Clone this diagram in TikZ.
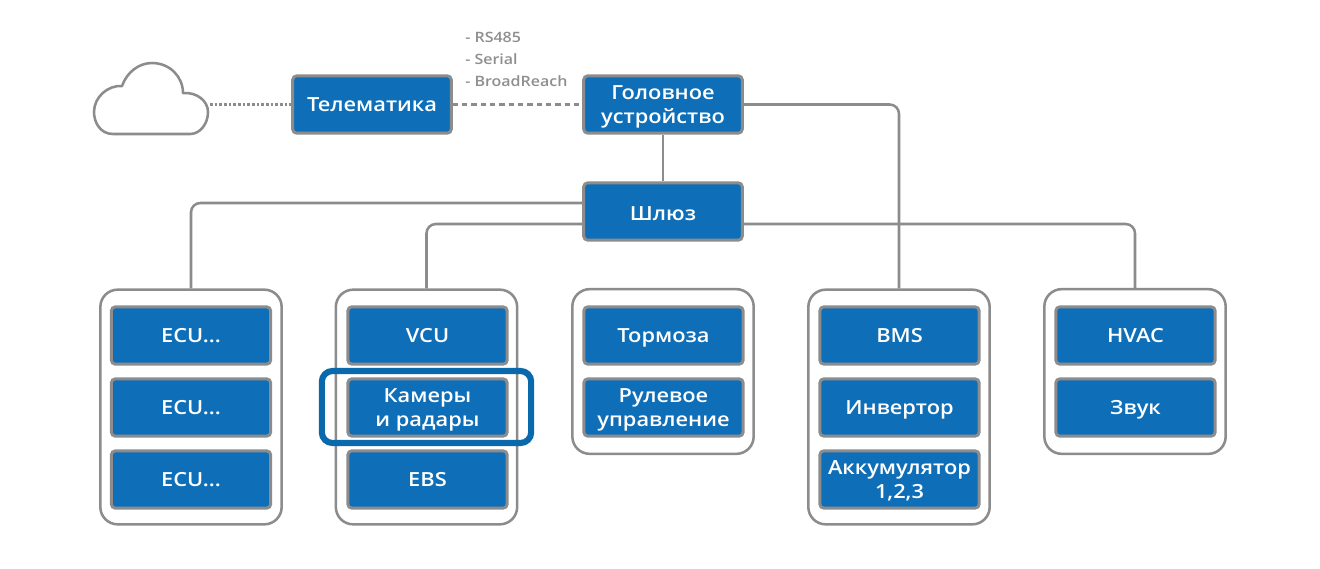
\documentclass[tikz,border=0pt]{standalone}
\usepackage{fontspec}
\newfontfamily\boxfont{Open Sans}[UprightFont=* Semibold,FakeStretch=1.12]
\usetikzlibrary{calc}
\definecolor{boxblue}{HTML}{0E6FB8}
\definecolor{hiblue}{HTML}{0A69AC}
\definecolor{linegrey}{HTML}{8C8C8C}
\definecolor{labelgrey}{HTML}{8F8F8F}
\tikzset{
  x=0.75pt,y=-0.75pt,
  blue box/.style={draw=linegrey,line width=2.2pt,fill=boxblue,rounded corners=3pt,text=white,
    inner sep=0pt,align=center,font=\boxfont\fontsize{14.6}{18.5}\selectfont,minimum height=43pt,
    minimum width=119pt,text height=10.4pt,text depth=0pt},
  two lines/.style={text height=28.9pt},
  inner box/.style={blue box,minimum width=119.5pt},
  group box/.style={draw=linegrey,line width=1.9pt,rounded corners=13pt,inner sep=0pt,fill=white},
  link/.style={draw=linegrey,line width=1.9pt,rounded corners=7pt},
  small label/.style={text=labelgrey,anchor=west,inner sep=0pt,font=\boxfont\fontsize{10.7}{12}\selectfont},
}
\begin{document}
\begin{tikzpicture}
\useasboundingbox (0,0) rectangle (1320,568);
\fill[white] (0,0) rectangle (1320,568);
% group frames
\node[group box,minimum width=136pt,minimum height=176pt] (g1) at (191,407) {};
\node[group box,minimum width=136pt,minimum height=176pt] (g2) at (426.5,407) {};
\node[group box,minimum width=136pt,minimum height=123.5pt] (g3) at (663,371.5) {};
\node[group box,minimum width=136pt,minimum height=176pt] (g4) at (899,407) {};
\node[group box,minimum width=136pt,minimum height=123.5pt] (g5) at (1135,371.5) {};
% top boxes
\node[blue box] (tele) at (372,104.5) {Телематика};
\node[blue box,two lines] (head) at (663,104.5) {Головное\\устройство};
\node[blue box,text height=13.4pt] (gw) at (663,211.5) {Шлюз};
% connectors
\draw[link] (head.east) -| (g4.north);
\draw[link] (head.south) -- (gw.north);
\draw[link] ($(gw.west)+(0,-8.5)$) -| (g1.north);
\draw[link] ($(gw.west)+(0,12.5)$) -| (g2.north);
\draw[link] ($(gw.east)+(0,12.5)$) -| (g5.north);
\draw[draw=linegrey,line width=1.9pt,dash pattern=on 4pt off 3pt] (tele.east) -- (head.west);
% cloud
\draw[draw=linegrey,line width=1.9pt,line join=round] (113,134)
  .. controls (100,134) and (94,122) .. (94,112)
  .. controls (94,97) and (108,85) .. (122,86)
  .. controls (127,72) and (139,63) .. (152,63)
  .. controls (170,63) and (183,77) .. (183,93)
  .. controls (197,92) and (208,101) .. (208,112)
  .. controls (208,124) and (200,134) .. (190,134) -- cycle;
\coordinate (cloudport) at (210,104.5);
\draw[draw=linegrey,line width=1.9pt,dash pattern=on 1.9pt off 1.6pt] (cloudport) -- (tele.west);
% inner boxes
\node[inner box] (a1) at (191,335.5) {ECU...};
\node[inner box] (a2) at (191,407.5) {ECU...};
\node[inner box] (a3) at (191,479.5) {ECU...};
\node[inner box] (b1) at (427.5,335.5) {VCU};
\node[inner box,two lines] (b2) at (427.5,407.5) {Камеры\\и радары};
\node[inner box] (b3) at (427.5,479.5) {EBS};
\node[inner box] (c1) at (663.5,335.5) {Тормоза};
\node[inner box,two lines] (c2) at (663.5,407.5) {Рулевое\\управление};
\node[inner box] (d1) at (899.5,335.5) {BMS};
\node[inner box] (d2) at (899.5,407.5) {Инвертор};
\node[inner box,two lines] (d3) at (899.5,479.5) {Аккумулятор\\1,2,3};
\node[inner box] (e1) at (1135.5,335.5) {HVAC};
\node[inner box] (e2) at (1135.5,407.5) {Звук};
% highlight
\node[draw=hiblue,line width=4.6pt,rounded corners=8pt,minimum width=157pt,minimum height=54pt,inner sep=0pt] (hl) at (426.5,407) {};
% labels
\node[small label] (l1) at (465,37) {- RS485};
\node[small label] (l2) at (465,59) {- Serial};
\node[small label] (l3) at (465,81) {- BroadReach};
\end{tikzpicture}
\end{document}
